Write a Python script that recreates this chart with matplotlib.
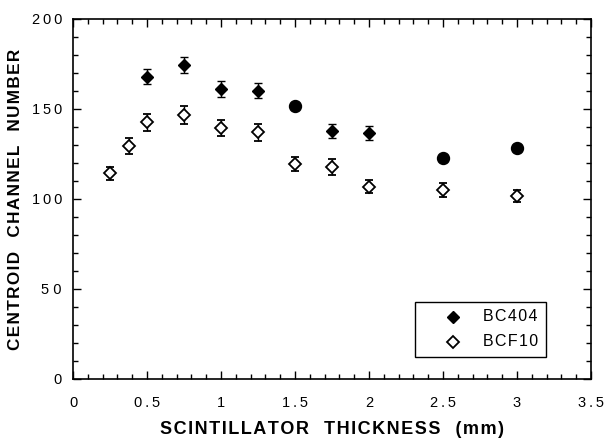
import matplotlib
matplotlib.use("Agg")
import matplotlib.pyplot as plt
from matplotlib.ticker import MultipleLocator, FixedLocator
from matplotlib.patches import Rectangle

plt.rcParams['font.family'] = ['Liberation Sans', 'DejaVu Sans']

# BC404 (filled diamonds; some points drawn as larger filled circles)
bc404_x = [0.5, 0.75, 1.0, 1.25, 1.75, 2.0]
bc404_y = [167.9, 174.4, 161.1, 160.2, 137.8, 136.7]
bc404_err = [4.2, 4.3, 4.2, 4.3, 3.7, 4.0]
bc404_circ_x = [1.5, 2.5, 3.0]
bc404_circ_y = [151.7, 122.6, 128.3]

# BCF10 (open diamonds)
bcf10_x = [0.25, 0.375, 0.5, 0.75, 1.0, 1.25, 1.5, 1.75, 2.0, 2.5, 3.0]
bcf10_y = [114.3, 129.4, 142.6, 146.5, 139.3, 137.2, 119.4, 117.9, 106.8, 105.0, 101.8]
bcf10_err = [3.7, 4.5, 4.6, 4.9, 4.4, 4.7, 3.7, 4.3, 3.7, 3.9, 3.4]

series_names = ['BC404', 'BCF10']
xticks = [0, 0.5, 1, 1.5, 2, 2.5, 3, 3.5]
xticklabels = ['0', '0.5', '1', '1.5', '2', '2.5', '3', '3.5']
yticks = [0, 50, 100, 150, 200]
yticklabels = ['0', '5 0', '100', '150', '200']

TS = '\u2009'
HS = '\u200a'


def spaced(s, sep):
    return sep.join(list(s))


fig = plt.figure(figsize=(6.09, 4.41), dpi=100)
ax = fig.add_axes([73 / 609, 62 / 441, 518 / 609, 360 / 441])

ax.errorbar(bc404_x, bc404_y, yerr=bc404_err, fmt='D', ms=6.2,
            mfc='black', mec='black', ecolor='black', elinewidth=1, capsize=3.2, capthick=1)
ax.plot(bc404_circ_x, bc404_circ_y, 'o', color='black', ms=8.6)
ax.errorbar(bcf10_x, bcf10_y, yerr=bcf10_err, fmt='D', ms=5.8,
            mfc='white', mec='black', mew=1.3, ecolor='black', elinewidth=1, capsize=3.2, capthick=1,
            zorder=3)

ax.set_xlim(0, 3.5)
ax.set_ylim(0, 200)
ax.xaxis.set_major_locator(FixedLocator(xticks))
ax.set_xticklabels([spaced(t, TS) for t in xticklabels])
ax.yaxis.set_major_locator(FixedLocator(yticks))
ax.set_yticklabels([spaced(t, TS) if ' ' not in t else t for t in yticklabels])
ax.xaxis.set_minor_locator(MultipleLocator(0.1))
ax.yaxis.set_minor_locator(MultipleLocator(10))
ax.tick_params(which='both', direction='in', top=True, right=True, labelsize=10.5, width=1)
ax.tick_params(which='major', length=5.8)
ax.tick_params(which='minor', length=3.6)
ax.tick_params(axis='x', which='major', pad=12)
ax.tick_params(axis='y', which='major', pad=8)
for s in ax.spines.values():
    s.set_linewidth(1.2)

ax.set_xlabel('   '.join(spaced(w, HS) for w in 'SCINTILLATOR THICKNESS (mm)'.split()),
              fontsize=13, fontweight='bold', labelpad=8)
ax.set_ylabel('   '.join(spaced(w, HS) for w in 'CENTROID CHANNEL NUMBER'.split()),
              fontsize=12.3, fontweight='bold', labelpad=6)

# legend box (drawn in axes coordinates)
ax.add_patch(Rectangle((0.660, 0.062), 0.2526, 0.151, transform=ax.transAxes,
                       fill=False, ec='black', lw=1, zorder=5))
ax.plot([0.733], [0.173], 'D', transform=ax.transAxes, ms=6.2, mfc='black', mec='black',
        clip_on=False, zorder=6)
ax.plot([0.733], [0.1036], 'D', transform=ax.transAxes, ms=5.8, mfc='white', mec='black',
        mew=1.3, clip_on=False, zorder=6)
ax.text(0.791, 0.173, spaced(series_names[0], HS), transform=ax.transAxes, fontsize=11.5,
        va='center', ha='left', zorder=6)
ax.text(0.791, 0.1036, spaced(series_names[1], HS), transform=ax.transAxes, fontsize=11.5,
        va='center', ha='left', zorder=6)

fig.savefig('out.png', dpi=100)
